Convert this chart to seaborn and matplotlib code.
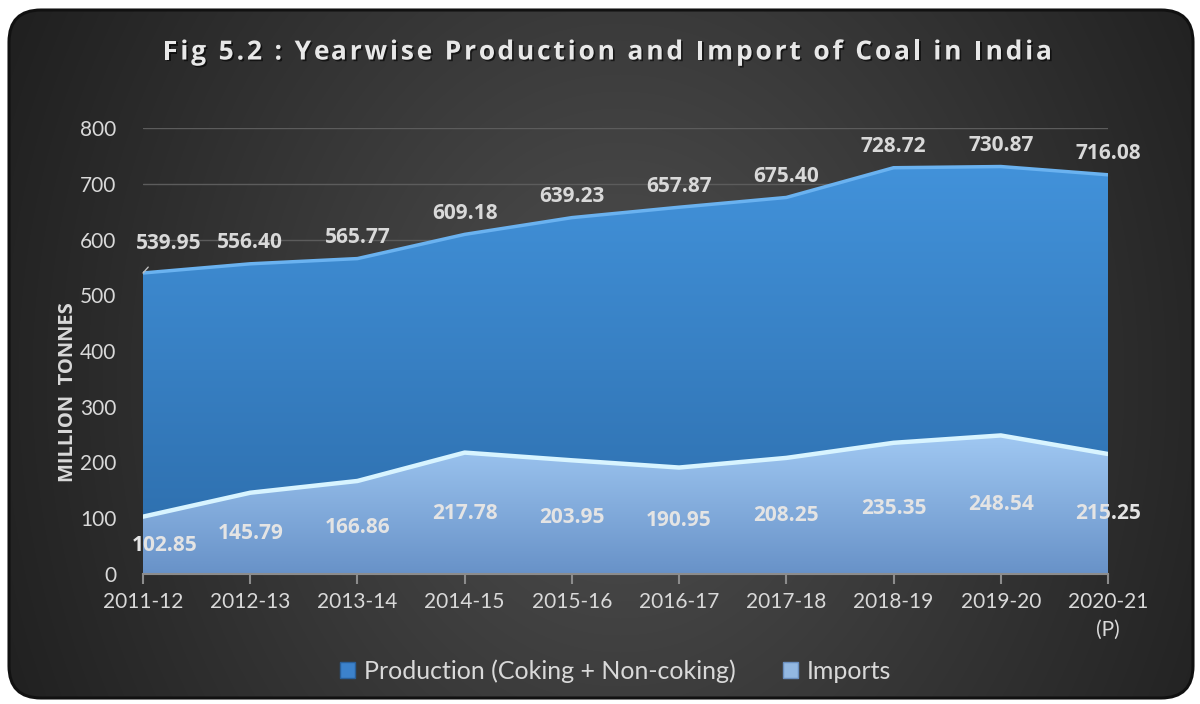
import numpy as np
import pandas as pd
import matplotlib
matplotlib.use("Agg")
import matplotlib.pyplot as plt
import matplotlib.patheffects as pe
from matplotlib.patches import FancyBboxPatch, Patch
import seaborn as sns

years = ["2011-12", "2012-13", "2013-14", "2014-15", "2015-16", "2016-17",
         "2017-18", "2018-19", "2019-20", "2020-21\n(P)"]
production = [539.95, 556.40, 565.77, 609.18, 639.23, 657.87, 675.40, 728.72, 730.87, 716.08]
imports = [102.85, 145.79, 166.86, 217.78, 203.95, 190.95, 208.25, 235.35, 248.54, 215.25]
yticks = [0, 100, 200, 300, 400, 500, 600, 700, 800]
title = "Fig 5.2 : Yearwise Production and Import of Coal in India"
ylabel = "MILLION  TONNES"
legend_labels = ["Production (Coking + Non-coking)", "Imports"]

sns.set_theme(style="dark")
FONT = ["Lato", "DejaVu Sans"]
BOLD = ["Open Sans", "DejaVu Sans"]
plt.rcParams["font.family"] = FONT
TXT = "#d9d9d9"

fig = plt.figure(figsize=(12, 7.04), dpi=100)
fig.patch.set_facecolor("white")

# background panel with radial gradient
bg = fig.add_axes([0, 0, 1, 1], zorder=-10)
bg.set_xlim(0, 1200)
bg.set_ylim(704, 0)
bg.axis("off")
yy, xx = np.mgrid[0:704, 0:1200]
d = np.sqrt(((xx - 620) / 700.0) ** 2 + ((yy - 380) / 850.0) ** 2)
g = np.clip(80 - 50 * d, 30, 90) / 255.0
img = np.dstack([g, g, g])
box = FancyBboxPatch((9, 10), 1184, 688, boxstyle="round,pad=0,rounding_size=32",
                     facecolor="none", edgecolor="#111111", linewidth=2.2, zorder=2)
bg.add_patch(box)
im = bg.imshow(img, extent=(0, 1200, 704, 0), origin="upper", aspect="auto", zorder=1)
im.set_clip_path(box)

# main axes
ax = fig.add_axes([143 / 1200, 1 - 574 / 704, (1108 - 143) / 1200, (574 - 128) / 704])
ax.patch.set_alpha(0)
x = np.arange(len(years))
ax.set_xlim(0, len(years) - 1)
ax.set_ylim(0, 800)

def grad_fill(xv, yv, top_rgb, bot_rgb, z):
    poly = ax.fill_between(xv, 0, yv, facecolor="none", edgecolor="none", zorder=z)
    n = 256
    t = np.linspace(0, 1, n)[:, None]
    top = np.array(top_rgb) / 255.0
    bot = np.array(bot_rgb) / 255.0
    col = (top[None, :] * (1 - t) + bot[None, :] * t)
    arr = np.repeat(col[:, None, :], 2, axis=1)
    ymax = max(yv)
    gi = ax.imshow(arr, extent=(xv[0], xv[-1], 0, ymax), origin="upper",
                   aspect="auto", zorder=z, interpolation="bilinear")
    gi.set_clip_path(poly.get_paths()[0], transform=ax.transData)
    return poly

grad_fill(x, production, (66, 146, 218), (44, 108, 170), 2)
grad_fill(x, imports, (160, 200, 242), (104, 146, 200), 3)

df = pd.DataFrame({"x": x, "Production": production, "Imports": imports})
sns.lineplot(data=df, x="x", y="Production", ax=ax, color="#6ab2f0", lw=2.5, zorder=4,
             legend=False)
sns.lineplot(data=df, x="x", y="Imports", ax=ax, color="#d8f4ff", lw=3.2, zorder=4,
             legend=False)
ax.set_xlabel("")
ax.set_ylabel("")

ax.set_yticks(yticks)
ax.set_yticklabels([str(v) for v in yticks])
ax.set_xticks(x)
ax.set_xticklabels(years, linespacing=1.5)
ax.grid(axis="y", color="#5c5c5c", lw=1, zorder=0)
ax.grid(axis="x", visible=False)
ax.set_axisbelow(True)
for s in ["top", "right", "left"]:
    ax.spines[s].set_visible(False)
ax.spines["bottom"].set_color("#8c8c8c")
ax.spines["bottom"].set_linewidth(1.5)
ax.spines["bottom"].set_zorder(5)
ax.tick_params(axis="x", direction="out", length=7, width=1.5, color="#8c8c8c",
               labelsize=15, pad=6, bottom=True, labelcolor=TXT)
ax.tick_params(axis="y", length=0, labelsize=15, pad=19, labelcolor=TXT)

# data labels
LBL = dict(fontsize=15, fontweight="bold", family=BOLD, zorder=6, ha="center", va="center")
for i, (p, m) in enumerate(zip(production, imports)):
    if i == 0:
        ax.annotate(f"{p:.2f}", xy=(i, p), xytext=(0.24, p + 52), color=TXT,
                    arrowprops=dict(arrowstyle="-", color="#bfbfbf", lw=1, shrinkA=9, shrinkB=0),
                    **LBL)
    else:
        ax.text(i, p + 38, f"{p:.2f}", color=TXT, **LBL)
    ax.text(i + (0.2 if i == 0 else 0), m / 2, f"{m:.2f}", color="#e4e4e4", **LBL)

# y label
fig.text(68 / 1200, 1 - 392 / 704, ylabel, rotation=90, ha="center", va="center",
         fontsize=14.5, fontweight="bold", family=BOLD, color=TXT)

# title with letter spacing: place characters individually
fig.canvas.draw()
rend = fig.canvas.get_renderer()
TKW = dict(fontsize=19, fontweight="bold", family=BOLD)

def text_w(s):
    t = fig.text(0, 0, s, **TKW)
    w = t.get_window_extent(renderer=rend).width
    t.remove()
    return w

bar_w = text_w("|")
starts = [text_w(title[:k] + "|") - bar_w if k > 0 else 0.0 for k in range(len(title))]
natural = text_w(title)
target = 1052 - 163
extra = (target - natural) / (len(title) - 1)
x0 = 163
ty = 1 - 52 / 704
for k, ch in enumerate(title):
    if ch == " ":
        continue
    px = x0 + starts[k] + k * extra
    fig.text(px / 1200, ty, ch, ha="left", va="center", color="#e8e8e8",
             path_effects=[pe.withSimplePatchShadow(offset=(1.2, -1.2),
                                                    shadow_rgbFace="black", alpha=0.6)],
             **TKW)

# legend
handles = [Patch(facecolor="#3c82cc", edgecolor="#2a5f99"),
           Patch(facecolor="#93b8e2", edgecolor="#6a8fbf")]
fig.legend(handles, legend_labels, loc="center", bbox_to_anchor=(616 / 1200, 1 - 671 / 704),
           ncol=2, frameon=False, fontsize=18, labelcolor=TXT, handlelength=0.6,
           handleheight=0.6, handletextpad=0.35, columnspacing=1.9)

fig.savefig("out.png", dpi=100, facecolor=fig.get_facecolor())
